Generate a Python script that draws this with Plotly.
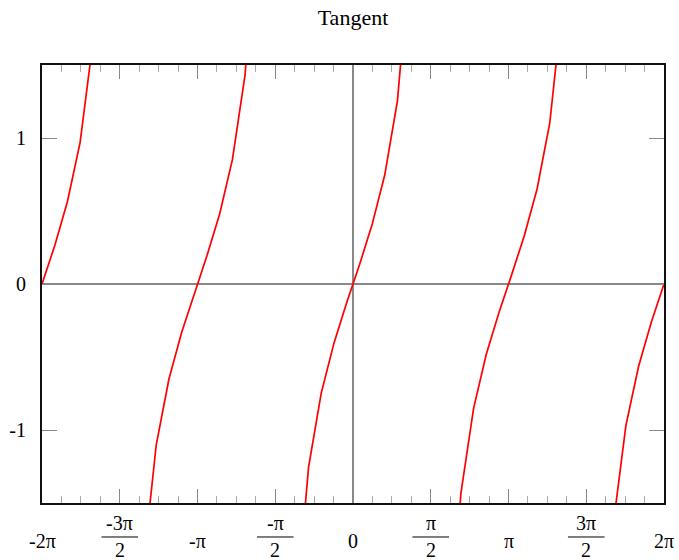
import plotly.graph_objects as go

# ---- data (tan sampled at 50 points over [-2π, 2π]; None marks the breaks at asymptotes)
x_samples = [-6.2832, -6.0267, -5.7703, -5.5138, -5.2574, -5.0009, -4.7445, None,
             -4.4880, -4.2315, -3.9751, -3.7186, -3.4622, -3.2057, -2.9493, -2.6928,
             -2.4363, -2.1799, -1.9234, -1.6670, None,
             -1.4105, -1.1541, -0.8976, -0.6411, -0.3847, -0.1282, 0.1282, 0.3847,
             0.6411, 0.8976, 1.1541, 1.4105, None,
             1.6670, 1.9234, 2.1799, 2.4363, 2.6928, 2.9493, 3.2057, 3.4622,
             3.7186, 3.9751, 4.2315, 4.4880, None,
             4.7445, 5.0009, 5.2574, 5.5138, 5.7703, 6.0267, 6.2832]
tan_values = [0.0, 0.2622, 0.5632, 0.9685, 1.6496, 3.3693, 31.18, None,
              -4.3812, -1.9168, -1.1011, -0.6509, -0.3320, -0.0642, 0.1948, 0.4816,
              0.8513, 1.4336, 2.7173, 10.366, None,
              -6.1853, -2.2590, -1.2540, -0.7463, -0.4049, -0.1289, 0.1289, 0.4049,
              0.7463, 1.2540, 2.2590, 6.1853, None,
              -10.366, -2.7173, -1.4336, -0.8513, -0.4816, -0.1948, 0.0642, 0.3320,
              0.6509, 1.1011, 1.9168, 4.3812, None,
              -31.18, -3.3693, -1.6496, -0.9685, -0.5632, -0.2622, 0.0]

PI = 3.141592653589793
x_tick_vals = [-2 * PI, -1.5 * PI, -PI, -0.5 * PI, 0.0, 0.5 * PI, PI, 1.5 * PI, 2 * PI]
x_tick_num = ["-2π", "-3π", "-π", "-π", "0", "π", "π", "3π", "2π"]
x_tick_den = [None, "2", None, "2", None, "2", None, "2", None]
y_tick_vals = [-1, 0, 1]
y_tick_text = ["-1", "0", "1"]

FONT = "Liberation Serif"
TICK_FS = 20

fig = go.Figure()
fig.add_trace(go.Scatter(x=x_samples, y=tan_values, mode="lines",
                         line=dict(color="#ff0000", width=1.7),
                         connectgaps=False, showlegend=False, hoverinfo="skip"))

annotations = []
shapes = []
for v, num, den in zip(x_tick_vals, x_tick_num, x_tick_den):
    if den is None:
        annotations.append(dict(x=v, xref="x", y=-0.0868, yref="paper", text=num,
                                showarrow=False, xanchor="center", yanchor="middle",
                                font=dict(family=FONT, size=TICK_FS, color="black")))
    else:
        annotations.append(dict(x=v, xref="x", y=-0.045, yref="paper", text=num,
                                showarrow=False, xanchor="center", yanchor="middle",
                                font=dict(family=FONT, size=TICK_FS, color="black")))
        annotations.append(dict(x=v, xref="x", y=-0.108, yref="paper", text=den,
                                showarrow=False, xanchor="center", yanchor="middle",
                                font=dict(family=FONT, size=TICK_FS, color="black")))
        shapes.append(dict(type="line", xref="x", yref="paper",
                           x0=v - 0.37, x1=v + 0.37, y0=-0.0776, y1=-0.0776,
                           line=dict(color="black", width=1)))

fig.update_layout(
    width=679, height=560,
    margin=dict(l=42, r=15, t=65, b=57, autoexpand=False),
    paper_bgcolor="white", plot_bgcolor="white",
    title=dict(text="Tangent", x=0.5, xref="paper", xanchor="center",
               y=1 - 17 / 560, yref="container", yanchor="middle",
               font=dict(family=FONT, size=22, color="black")),
    annotations=annotations,
    shapes=shapes,
    xaxis=dict(range=[-2 * PI, 2 * PI], showgrid=False, automargin=False,
               zeroline=True, zerolinecolor="#888888", zerolinewidth=1.5,
               showline=True, linecolor="#111111", linewidth=2, mirror="ticks",
               tickmode="linear", tick0=0, dtick=PI / 2,
               ticks="inside", ticklen=14, tickcolor="#888888", tickwidth=1,
               showticklabels=False,
               minor=dict(tickmode="linear", tick0=0, dtick=PI / 8, ticks="inside",
                          ticklen=7, tickcolor="#aaaaaa", tickwidth=1, showgrid=False)),
    yaxis=dict(range=[-1.5, 1.5], showgrid=False, automargin=False,
               zeroline=True, zerolinecolor="#888888", zerolinewidth=1.5,
               showline=True, linecolor="#111111", linewidth=2, mirror="ticks",
               tickmode="array", tickvals=y_tick_vals, ticktext=y_tick_text,
               ticks="inside", ticklen=15, tickcolor="#888888", tickwidth=1,
               ticklabelstandoff=10,
               tickfont=dict(family=FONT, size=TICK_FS, color="black")),
)

fig.write_html("out.html", config={"displayModeBar": False},
               post_script="document.body.style.margin='0';document.body.style.padding='0';")
